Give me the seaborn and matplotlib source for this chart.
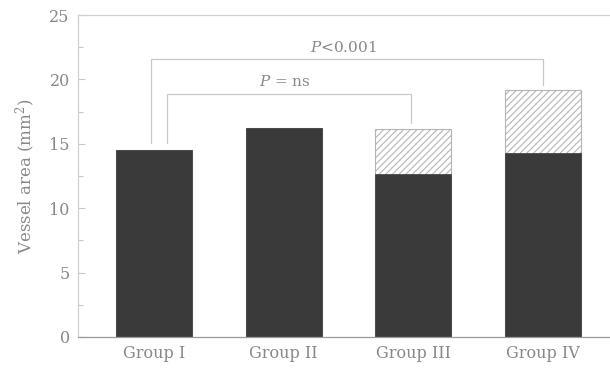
import matplotlib
matplotlib.use("Agg")
import matplotlib.pyplot as plt
import seaborn as sns
import pandas as pd
from matplotlib.ticker import MultipleLocator

# Vessel area per group: solid part and total (solid + hatched increment)
groups = ["Group I", "Group II", "Group III", "Group IV"]
base_area = [14.5, 16.25, 12.65, 14.3]
total_area = [14.5, 16.25, 16.15, 19.15]

# Significance brackets: (x_left, x_right, y_bar, y_left_end, y_right_end, label)
bracket_ns = (0.1, 1.98, 18.9, 15.1, 16.65, "$P$ = ns")
bracket_sig = (-0.02, 3.0, 21.6, 15.1, 19.6, "$P$<0.001")

sns.set_theme(style="white")
plt.rcParams["font.family"] = ["DejaVu Serif"]
plt.rcParams["mathtext.fontset"] = "dejavuserif"
plt.rcParams["hatch.color"] = "#a8a8a8"
plt.rcParams["hatch.linewidth"] = 0.8

text_gray = "#888888"
line_gray = "#c8c8c8"

df = pd.DataFrame({"group": groups, "base": base_area, "total": total_area})

fig = plt.figure(figsize=(6.10, 3.69), dpi=100)
ax = fig.add_axes([0.128, 0.087, 0.872, 0.872])

sns.barplot(data=df, x="group", y="total", ax=ax, color="white",
            width=0.586, edgecolor="#b5b5b5", linewidth=0.8, hatch="/////",
            errorbar=None, saturation=1)
sns.barplot(data=df, x="group", y="base", ax=ax, color="#3a3a3a",
            width=0.586, edgecolor="#3a3a3a", linewidth=0.5,
            errorbar=None, saturation=1)

ax.set_xlim(-0.586, 3.517)
ax.set_ylim(0, 25)
ax.yaxis.set_major_locator(MultipleLocator(5))
ax.yaxis.set_minor_locator(MultipleLocator(2.5))
ax.tick_params(axis="y", which="major", direction="in", length=5, width=0.8,
               color=line_gray, labelsize=11.5, labelcolor=text_gray, left=True, pad=6)
ax.tick_params(axis="y", which="minor", direction="in", length=3.5, width=0.8,
               color=line_gray, left=True)
ax.tick_params(axis="x", length=0, labelsize=11.5, labelcolor=text_gray, pad=6)

ax.set_xlabel("")
ax.set_ylabel("Vessel area (mm$^2$)", fontsize=12, color=text_gray, labelpad=8)

for side in ["left", "top"]:
    ax.spines[side].set_color("#d0d0d0")
    ax.spines[side].set_linewidth(0.9)
ax.spines["bottom"].set_color("#9a9a9a")
ax.spines["bottom"].set_linewidth(0.9)
ax.spines["right"].set_visible(False)

def draw_bracket(spec, text_offset):
    x0, x1, y, yl, yr, label = spec
    ax.plot([x0, x0, x1, x1], [yl, y, y, yr], color=line_gray, lw=0.9,
            solid_joinstyle="miter")
    ax.text((x0 + x1) / 2 - 0.03, y + text_offset, label, ha="center",
            va="bottom", fontsize=11, color=text_gray)

draw_bracket(bracket_ns, 0.35)
draw_bracket(bracket_sig, 0.3)

fig.savefig("out.png", dpi=100)
